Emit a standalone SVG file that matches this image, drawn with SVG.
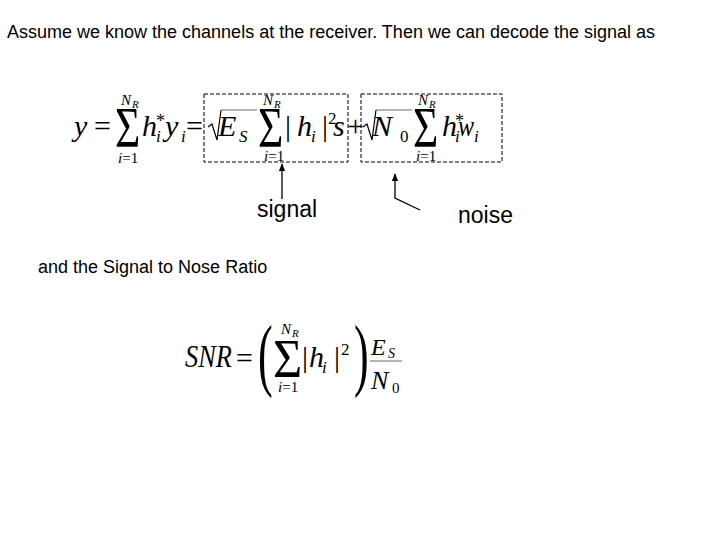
<svg xmlns="http://www.w3.org/2000/svg" width="720" height="540" viewBox="0 0 720 540">
<style>
.t{font-family:"Liberation Sans",Arial,sans-serif;fill:#000}
.m{font-family:"Liberation Serif","Times New Roman",serif;fill:#000}
.it{font-style:italic}
.box{fill:none;stroke:#000;stroke-width:1;stroke-dasharray:4,2}
.ln{fill:none;stroke:#000;stroke-width:1.3}
.rad{fill:none;stroke:#000;stroke-width:1.2}
.bar{fill:none;stroke:#666;stroke-width:1}
</style>
<defs>
<marker id="ah" viewBox="0 0 10 10" refX="9" refY="5" markerWidth="6" markerHeight="6" orient="auto"><path d="M0,1 L10,5 L0,9 z" fill="#000"/></marker>
</defs>
<rect width="720" height="540" fill="#fff"/>
<text class="t" x="7" y="38" font-size="18">Assume we know the channels at the receiver. Then we can decode the signal as</text>

<g id="eq1" class="m" font-size="30">
<text x="74" y="136" class="it">y</text>
<text x="94" y="136">=</text>
<text x="115" y="147" font-size="58" transform="translate(115,0) scale(0.75,1) translate(-115,0)">Σ</text>
<text x="121" y="105" font-size="15" class="it">N</text><text x="132" y="108" font-size="11" class="it">R</text>
<text x="118" y="163" font-size="15"><tspan class="it">i</tspan>=1</text>
<text x="142" y="136" class="it">h</text>
<text x="156" y="127" font-size="18">*</text>
<text x="156" y="142" font-size="17" class="it">i</text>
<text x="165" y="136" class="it">y</text>
<text x="181" y="142" font-size="17" class="it">i</text>
<text x="186" y="136">=</text>
</g>

<g id="signal-box">
<rect class="box" x="204" y="94" width="144" height="68"/>
<g class="m" font-size="30">
<path class="rad" d="M208,127 L212,124 L217,140 L221,110"/>
<line class="bar" x1="221" y1="110" x2="257" y2="110"/>
<text x="218" y="136" class="it">E</text>
<text x="239" y="142" font-size="17" class="it">S</text>
<text x="258" y="147" font-size="58" transform="translate(258,0) scale(0.75,1) translate(-258,0)">Σ</text>
<text x="263" y="105" font-size="15" class="it">N</text><text x="274" y="108" font-size="11" class="it">R</text>
<text x="264" y="161" font-size="15"><tspan class="it">i</tspan>=1</text>
<text x="285" y="136">|</text>
<text x="297" y="136" class="it">h</text>
<text x="311" y="142" font-size="17" class="it">i</text>
<text x="322" y="136">|</text>
<text x="328" y="124" font-size="17">2</text>
<text x="333" y="136" class="it">s</text>
</g>
</g>

<text class="m" x="347" y="136" font-size="30">+</text>

<g id="noise-box">
<rect class="box" x="361" y="94" width="141" height="68"/>
<g class="m" font-size="30">
<path class="rad" d="M363,127 L367,124 L372,140 L376,110"/>
<line class="bar" x1="376" y1="110" x2="412" y2="110"/>
<text x="372" y="136" class="it">N</text>
<text x="400" y="142" font-size="17">0</text>
<text x="413" y="147" font-size="58" transform="translate(413,0) scale(0.75,1) translate(-413,0)">Σ</text>
<text x="418" y="105" font-size="15" class="it">N</text><text x="429" y="108" font-size="11" class="it">R</text>
<text x="416" y="161" font-size="15"><tspan class="it">i</tspan>=1</text>
<text x="442" y="136" class="it">h</text>
<text x="455" y="127" font-size="18">*</text>
<text x="455" y="142" font-size="17" class="it">i</text>
<text x="458" y="136" class="it" transform="translate(458,0) scale(0.8,1) translate(-458,0)">w</text>
<text x="474" y="142" font-size="17" class="it">i</text>
</g>
</g>

<g id="connectors">
<line class="ln" x1="282" y1="199" x2="282" y2="164" marker-end="url(#ah)"/>
<polyline class="ln" points="420,210 395,198 395,174" marker-end="url(#ah)"/>
</g>

<g id="signal-label"><text class="t" x="257" y="217" font-size="23">signal</text></g>
<g id="noise-label"><text class="t" x="458" y="223" font-size="23">noise</text></g>

<text class="t" x="38" y="273" font-size="18">and the Signal to Nose Ratio</text>

<g id="eq2" class="m" font-size="30">
<text x="185" y="367" class="it" font-size="31" transform="translate(185,0) scale(0.85,1) translate(-185,0)">SNR</text>
<text x="236" y="368">=</text>
<text x="258" y="381" font-size="80" transform="translate(258,0) scale(0.55,1) translate(-258,0)">(</text>
<text x="273" y="377" font-size="54" transform="translate(273,0) scale(0.93,1) translate(-273,0)">Σ</text>
<text x="281" y="334" font-size="15" class="it">N</text><text x="292" y="337" font-size="11" class="it">R</text>
<text x="278" y="392" font-size="15"><tspan class="it">i</tspan>=1</text>
<text x="302" y="367">|</text>
<text x="309" y="367" class="it">h</text>
<text x="322" y="373" font-size="17" class="it">i</text>
<text x="334" y="367">|</text>
<text x="341" y="355" font-size="17">2</text>
<text x="354" y="381" font-size="80" transform="translate(354,0) scale(0.55,1) translate(-354,0)">)</text>
<text x="371" y="355" class="it" font-size="24">E</text>
<text x="388" y="358" font-size="14" class="it">S</text>
<line class="bar" x1="370" y1="361" x2="402" y2="361"/>
<text x="371" y="389" class="it" font-size="26">N</text>
<text x="392" y="393" font-size="15">0</text>
</g>
</svg>
